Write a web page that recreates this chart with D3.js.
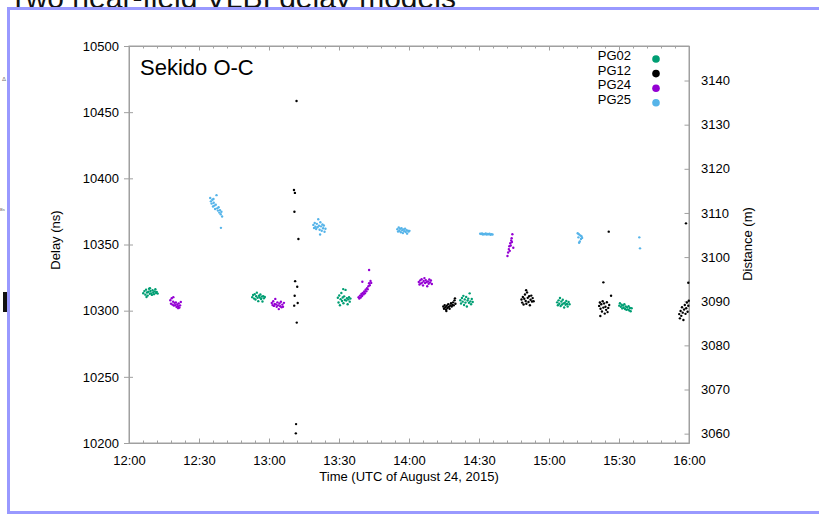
<!DOCTYPE html>
<html>
<head>
<meta charset="utf-8">
<script src="https://cdn.jsdelivr.net/npm/d3@7"></script>
<style>
  html, body { margin: 0; padding: 0; background: #fff; }
  svg { display: block; font-family: "Liberation Sans", Arial, sans-serif; }
</style>
</head>
<body>
<svg id="chart" width="819" height="514"></svg>
<script>
// minutes after 12:00 UTC, delay (ns)
const pg02 = [
    [6.1,10313.2],[6.6,10314.8],[7.0,10312.1],[7.3,10315.9],[7.7,10313.7],[8.0,10311.4],[8.3,10314.3],[8.6,10316.6],
    [8.9,10312.8],[9.2,10314.9],[9.5,10313.1],[9.8,10311.9],[10.1,10315.4],[10.4,10313.8],[10.7,10312.5],[11.0,10314.6],
    [11.3,10316.2],[11.6,10313.3],[11.9,10314.1],[12.3,10312.9],[7.5,10310.3],[9.0,10317.0],
    [52.8,10310.2],[53.2,10311.8],[53.6,10309.1],[53.9,10312.5],[54.2,10308.4],[54.5,10310.9],[54.8,10313.6],[55.1,10309.7],
    [55.4,10307.2],[55.7,10311.3],[56.0,10309.9],[56.3,10312.2],[56.6,10308.8],[56.9,10310.6],[57.2,10306.9],[57.5,10311.0],
    [57.8,10309.3],[58.2,10310.4],
    [89.5,10309.8],[89.8,10306.2],[90.1,10311.5],[90.4,10304.1],[90.7,10308.7],[91.0,10313.4],[91.3,10307.3],[91.6,10309.9],
    [91.9,10305.6],[92.2,10310.8],[92.5,10308.1],[92.8,10315.7],[93.1,10307.6],[93.4,10309.4],[93.7,10304.9],[94.0,10308.5],
    [94.3,10310.2],[94.6,10306.8],[94.9,10309.1],[91.8,10316.3],
    [142.0,10307.9],[142.3,10305.4],[142.7,10309.6],[143.0,10306.8],[143.3,10311.2],[143.6,10304.3],[143.9,10308.5],[144.2,10306.1],
    [144.5,10310.4],[144.8,10303.2],[145.1,10307.7],[145.4,10309.1],[145.7,10305.9],[146.0,10313.1],[146.3,10307.0],[146.6,10304.8],
    [146.9,10308.8],[147.3,10306.5],
    [183.5,10306.3],[183.8,10304.1],[184.1,10307.8],[184.4,10305.2],[184.7,10309.6],[185.0,10303.5],[185.3,10306.9],[185.6,10304.7],
    [185.9,10308.2],[186.2,10305.5],[186.5,10302.4],[186.8,10306.0],[187.1,10304.4],[187.4,10307.3],[187.7,10305.1],[188.0,10303.2],
    [188.4,10306.6],[188.8,10304.9],
    [210.1,10303.8],[210.4,10305.6],[210.8,10302.9],[211.1,10304.5],[211.4,10301.7],[211.7,10303.9],[212.0,10302.2],[212.3,10304.8],
    [212.6,10301.3],[212.9,10303.1],[213.2,10300.6],[213.5,10302.5],[213.8,10301.0],[214.1,10303.4],[214.4,10300.2],[214.7,10302.0],
    [215.0,10299.6],[215.4,10301.8]
];

const pg12 = [
    [71.8,10458.4],[70.7,10391.2],[71.1,10389.0],[70.9,10374.8],[72.6,10354.2],[71.2,10322.3],[72.1,10318.1],[71.0,10311.3],
    [72.3,10305.8],[70.8,10303.8],[71.9,10291.0],[71.6,10214.3],[71.5,10207.3],
    [134.7,10303.1],[135.0,10301.4],[135.3,10304.2],[135.6,10302.6],[135.9,10300.9],[136.2,10303.7],[136.5,10302.0],[136.8,10304.8],
    [137.1,10302.9],[137.4,10301.5],[137.7,10303.9],[138.0,10305.6],[138.3,10303.2],[138.6,10304.4],[138.9,10306.3],[139.2,10304.0],
    [139.5,10307.8],[139.9,10305.2],[136.0,10299.8],[139.7,10309.3],
    [168.2,10308.4],[168.5,10306.1],[168.8,10310.3],[169.1,10304.7],[169.4,10309.0],[169.7,10312.2],[170.0,10307.3],[170.3,10305.2],
    [170.6,10313.8],[170.9,10309.7],[171.2,10306.6],[171.5,10310.9],[171.8,10304.1],[172.1,10308.2],[172.4,10311.4],[172.7,10306.9],
    [173.0,10309.5],[173.4,10307.1],[170.2,10315.5],
    [205.6,10359.7],[203.3,10321.4],[206.6,10311.3],[201.5,10303.6],[201.8,10306.2],[202.1,10301.5],[202.4,10304.8],[202.7,10299.4],
    [203.0,10307.1],[203.3,10302.3],[203.6,10305.5],[203.9,10297.8],[204.2,10303.0],[204.5,10300.6],[204.8,10306.4],[205.1,10298.9],
    [205.4,10302.1],[205.8,10304.3],[202.0,10296.0],
    [238.7,10366.0],[239.7,10321.1],[235.8,10297.4],[236.1,10294.2],[236.4,10299.8],[236.7,10296.1],[237.0,10302.6],[237.3,10298.5],
    [237.6,10293.0],[237.9,10300.9],[238.2,10304.3],[238.5,10297.6],[238.8,10301.8],[239.1,10306.2],[239.4,10299.2],[239.7,10303.7],
    [239.9,10307.5]
];

const pg24 = [
    [17.7,10307.9],[18.0,10305.3],[18.3,10309.4],[18.6,10304.6],[18.9,10306.8],[19.2,10303.9],[19.5,10305.9],[19.8,10304.1],
    [20.1,10306.2],[20.4,10302.8],[20.7,10304.7],[21.0,10303.3],[21.3,10305.5],[21.6,10302.4],[21.9,10304.0],[22.2,10306.5],
    [19.0,10310.2],[21.1,10301.9],
    [61.2,10305.8],[61.5,10304.2],[61.8,10307.1],[62.1,10303.6],[62.4,10305.0],[62.7,10308.9],[63.0,10304.7],[63.3,10302.9],
    [63.6,10306.3],[63.9,10304.0],[64.2,10301.2],[64.5,10305.4],[64.8,10303.3],[65.1,10306.7],[65.4,10302.5],[65.7,10304.6],
    [66.0,10303.0],[66.4,10305.9],
    [98.4,10310.1],[98.7,10309.2],[99.0,10311.4],[99.3,10310.0],[99.6,10312.6],[99.9,10311.1],[100.2,10313.4],[100.5,10312.3],
    [100.8,10314.5],[101.1,10313.2],[101.4,10315.8],[101.7,10314.6],[102.0,10317.0],[102.3,10316.1],[102.6,10318.4],[102.9,10320.7],
    [103.2,10319.3],[103.5,10322.4],[103.8,10321.0],[100.0,10321.9],[102.9,10330.7],
    [124.2,10321.7],[124.5,10319.8],[124.8,10322.9],[125.1,10320.6],[125.4,10323.8],[125.7,10321.2],[126.0,10319.1],[126.3,10322.4],
    [126.6,10324.6],[126.9,10320.9],[127.2,10323.1],[127.5,10321.6],[127.8,10318.4],[128.1,10322.0],[128.4,10320.3],[128.7,10323.5],
    [129.0,10321.3],[129.4,10322.8],[129.8,10320.1],
    [162.2,10341.3],[162.5,10343.9],[162.8,10346.5],[163.0,10348.7],[163.2,10345.2],[163.4,10351.0],[163.6,10349.3],[163.8,10353.1],
    [164.0,10354.8],[164.1,10351.9],[164.3,10357.7],[164.7,10347.6]
];

const pg25 = [
    [34.8,10385.1],[35.1,10382.6],[35.4,10380.9],[35.7,10383.8],[36.0,10378.7],[36.3,10381.5],[36.6,10379.4],[36.9,10376.8],
    [37.2,10380.1],[37.5,10387.3],[37.8,10377.3],[38.1,10375.6],[38.4,10378.2],[38.7,10374.1],[39.0,10376.0],[39.3,10372.9],
    [39.6,10374.7],[39.9,10371.2],[39.4,10362.6],[36.2,10384.4],
    [79.0,10364.8],[79.3,10362.5],[79.6,10366.3],[79.9,10363.4],[80.2,10361.7],[80.5,10365.6],[80.8,10363.0],[81.1,10369.1],
    [81.4,10364.2],[81.7,10361.2],[82.0,10366.8],[82.3,10363.7],[82.6,10360.4],[82.9,10365.1],[83.2,10362.3],[83.5,10364.4],
    [83.8,10359.6],[84.2,10361.9],[81.9,10357.6],
    [115.0,10361.6],[115.3,10359.8],[115.6,10362.9],[115.9,10360.4],[116.2,10361.9],[116.5,10359.3],[116.8,10362.3],[117.1,10360.8],
    [117.4,10358.6],[117.7,10361.4],[118.0,10360.1],[118.3,10362.0],[118.6,10359.5],[118.9,10360.9],[119.2,10358.2],[119.5,10360.5],
    [119.8,10359.7],[120.2,10360.3],
    [150.5,10358.2],[150.9,10357.9],[151.3,10358.4],[151.7,10357.6],[152.1,10358.0],[152.5,10357.8],[152.9,10358.3],[153.3,10357.5],
    [153.7,10357.9],[154.1,10357.7],[154.5,10358.1],[154.9,10357.4],[155.3,10357.8],[155.8,10357.6],
    [192.3,10358.5],[192.8,10357.8],[193.4,10356.9],[193.9,10356.2],[192.6,10355.4],[193.7,10354.1],[193.2,10352.3],[192.9,10351.3],
    [194.2,10355.0],
    [218.7,10355.4],[219.0,10347.1]
];

const seriesNames = ["PG02", "PG12", "PG24", "PG25"];
const seriesColors = ["#009e73", "#000000", "#9400d3", "#56b4e9"];
const seriesData = [pg02, pg12, pg24, pg25];

const delayRange = [10200, 10500];
const delayTicks = [10200, 10250, 10300, 10350, 10400, 10450, 10500];
const distTicks = [3060, 3070, 3080, 3090, 3100, 3110, 3120, 3130, 3140];
const lightSpeed = 0.299792458; // m per ns

const t0 = Date.UTC(2015, 7, 24, 12, 0);
const t1 = Date.UTC(2015, 7, 24, 16, 0);

const plot = { left: 129, right: 689, top: 46, bottom: 443 };
const axisGrey = "#a0a0a0";

const svg = d3.select("#chart");

// bits of the page behind the frame
svg.append("text")
    .attr("x", 9).attr("y", 8)
    .attr("font-size", 30)
    .attr("fill", "#111")
    .text("Two near-field VLBI delay models");
svg.append("text")
    .attr("x", 2).attr("y", 81)
    .attr("font-size", 6).attr("fill", "#777")
    .text("Δ");
svg.append("text")
    .attr("x", 0).attr("y", 211)
    .attr("font-size", 4).attr("fill", "#555")
    .text("Bs");
svg.append("rect")
    .attr("x", 3).attr("y", 292).attr("width", 4).attr("height", 20)
    .attr("fill", "#111");

// the frame
svg.append("rect")
    .attr("x", 8.5).attr("y", 8.5)
    .attr("width", 840).attr("height", 504)
    .attr("fill", "#fff")
    .attr("stroke", "#9999ff")
    .attr("stroke-width", 3);

const x = d3.scaleUtc().domain([t0, t1]).range([plot.left, plot.right]);
const y = d3.scaleLinear().domain(delayRange).range([plot.bottom, plot.top]);
const y2 = d3.scaleLinear()
    .domain(delayRange.map(d => d * lightSpeed))
    .range([plot.bottom, plot.top]);

const fmt = d3.utcFormat("%H:%M");

// minor x ticks, bottom and top
svg.append("g")
    .attr("transform", `translate(0,${plot.bottom})`)
    .call(d3.axisBottom(x).ticks(d3.utcMinute.every(6)).tickSize(-2.5).tickSizeOuter(0).tickFormat(""));
svg.append("g")
    .attr("transform", `translate(0,${plot.top})`)
    .call(d3.axisTop(x).ticks(d3.utcMinute.every(6)).tickSize(-2.5).tickSizeOuter(0).tickFormat(""));

// major x ticks
const xAxis = svg.append("g")
    .attr("transform", `translate(0,${plot.bottom})`)
    .call(d3.axisBottom(x).ticks(d3.utcMinute.every(30)).tickSize(-4.5).tickSizeOuter(0).tickPadding(13).tickFormat(fmt));
svg.append("g")
    .attr("transform", `translate(0,${plot.top})`)
    .call(d3.axisTop(x).ticks(d3.utcMinute.every(30)).tickSize(-4.5).tickSizeOuter(0).tickFormat(""));

const yAxis = svg.append("g")
    .attr("transform", `translate(${plot.left},0)`)
    .call(d3.axisLeft(y).tickValues(delayTicks).tickSize(5).tickSizeOuter(0).tickPadding(5).tickFormat(d3.format("d")));
yAxis.selectAll(".tick line").attr("x2", 4).attr("x1", -5);

const y2Axis = svg.append("g")
    .attr("transform", `translate(${plot.right},0)`)
    .call(d3.axisRight(y2).tickValues(distTicks).tickSize(-4.5).tickSizeOuter(0).tickPadding(12).tickFormat(d3.format("d")));

svg.selectAll(".domain").attr("stroke", axisGrey);
svg.selectAll(".tick line").attr("stroke", axisGrey);
svg.selectAll(".tick text")
    .attr("font-family", "Liberation Sans, Arial, sans-serif")
    .attr("font-size", 13)
    .attr("fill", "#000");
xAxis.selectAll(".tick text").attr("dy", "0.71em");

// border lines
svg.append("rect")
    .attr("x", plot.left).attr("y", plot.top)
    .attr("width", plot.right - plot.left).attr("height", plot.bottom - plot.top)
    .attr("fill", "none")
    .attr("stroke", axisGrey);

// points
seriesData.forEach((data, i) => {
    svg.append("g")
        .attr("fill", seriesColors[i])
        .selectAll("circle")
        .data(data)
        .join("circle")
        .attr("cx", d => x(t0 + d[0] * 60000))
        .attr("cy", d => y(d[1]))
        .attr("r", 1.2);
});

// labels
svg.append("text")
    .attr("x", 140).attr("y", 75)
    .attr("font-size", 22)
    .text("Sekido O-C");

svg.append("text")
    .attr("x", (plot.left + plot.right) / 2).attr("y", 481)
    .attr("text-anchor", "middle")
    .attr("font-size", 13)
    .text("Time (UTC of August 24, 2015)");

svg.append("text")
    .attr("transform", "translate(59.5,240) rotate(-90)")
    .attr("text-anchor", "middle")
    .attr("font-size", 13)
    .text("Delay (ns)");

svg.append("text")
    .attr("transform", "translate(751.5,244) rotate(-90)")
    .attr("text-anchor", "middle")
    .attr("font-size", 13)
    .text("Distance (m)");

// legend
const legend = svg.append("g")
    .selectAll("g")
    .data(seriesNames)
    .join("g")
    .attr("transform", (d, i) => `translate(0,${60 + i * 14.6})`);

legend.append("text")
    .attr("x", 631)
    .attr("text-anchor", "end")
    .attr("font-size", 13)
    .text(d => d);

legend.append("circle")
    .attr("cx", 656)
    .attr("cy", -1)
    .attr("r", 3.8)
    .attr("fill", (d, i) => seriesColors[i]);
</script>
</body>
</html>
